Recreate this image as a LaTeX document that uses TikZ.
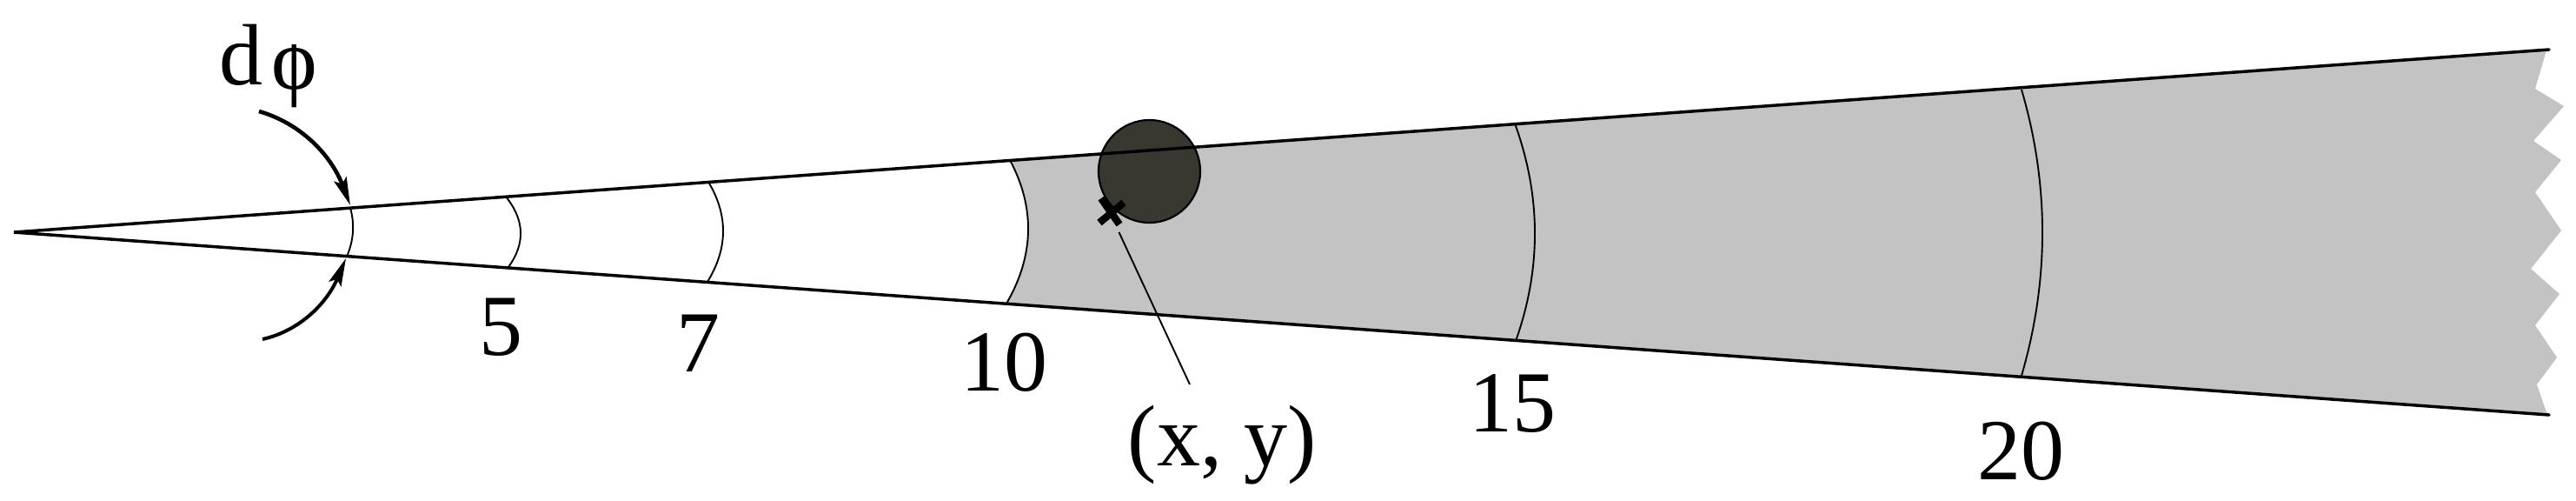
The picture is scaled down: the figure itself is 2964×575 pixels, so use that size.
\documentclass[tikz,border=0pt]{standalone}
\usepackage{fontspec}
\setmainfont{Liberation Serif}
\usetikzlibrary{arrows.meta}
\tikzset{
  lbl/.style={anchor=base,inner sep=0pt,font=\fontsize{50}{60}\selectfont},
  edgeline/.style={line width=1.75pt,line cap=round},
  arcline/.style={line width=0.95pt},
  bendarrow/.style={line width=2.3pt,-{Stealth[length=16pt,width=7.5pt,inset=3pt]}},
  crossline/.style={line width=4.2pt},
}
\definecolor{sector}{HTML}{C3C3C3}
\definecolor{blob}{HTML}{383830}
\begin{document}
\begin{tikzpicture}[x=0.5pt,y=-0.5pt]
\useasboundingbox (0,0) rectangle (2964,575);
\coordinate (apex) at (16,267);
\coordinate (upEnd) at (2933,57);
\coordinate (loEnd) at (2933,477);
\coordinate (t10) at (1162,184);
\coordinate (b10) at (1158,349);
% grey sector with torn right edge
\fill[sector] (t10) -- (2930,58) -- (2917,102) -- (2950,122) -- (2915,162) -- (2947,184)
  -- (2917,221) -- (2947,265) -- (2912,309) -- (2945,338) -- (2917,374) -- (2942,411)
  -- (2919,442) -- (2931,477) -- (b10) .. controls (1190,294) and (1191.3,239) .. (t10) -- cycle;
% range arcs
\draw[arcline] (403,239) .. controls (408.3,257.7) and (407,276.3) .. (399,295);
\draw[arcline] (582,226) .. controls (603.7,253) and (604.7,280) .. (585,307);
\draw[arcline] (815,209) .. controls (838,247.3) and (837.7,285.7) .. (814,324);
\draw[arcline] (t10) .. controls (1191.3,239) and (1190,294) .. (b10);
\draw[arcline] (1743,142) .. controls (1773.3,225.3) and (1773.7,308.7) .. (1744,392);
\draw[arcline] (2326,103) .. controls (2358,212.3) and (2358,322) .. (2326,432);
% blob
\draw[fill=blob,line width=1.1pt] (1322.5,197) ellipse [x radius=58.5,y radius=59];
% edges
\draw[edgeline] (upEnd) -- (apex) -- (loEnd);
% dphi arrows
\coordinate (arrTopS) at (298,128);
\coordinate (arrTopE) at (403,236);
\coordinate (arrBotS) at (302,390);
\coordinate (arrBotE) at (398,297);
\draw[bendarrow] (arrTopS) .. controls (345.7,141.7) and (380.7,177.7) .. (arrTopE);
\draw[bendarrow,line width=2pt] (arrBotS) .. controls (343.7,380.7) and (375.7,349.7) .. (arrBotE);
% marker
\draw[crossline] (1267,228) -- (1288,258);
\draw[crossline] (1293,233) -- (1265,256);
% leader
\coordinate (leadS) at (1287.5,267);
\coordinate (leadE) at (1369,442);
\draw[arcline] (leadS) -- (leadE);
% labels
\node[lbl] (ld) at (277.5,97) {d};
\begin{scope}
\clip (300,51) rectangle (385,130);
\node[lbl] (lphi) at (339,102) {ϕ};
\end{scope}
\node[lbl] (l5) at (576,408) {5};
\node[lbl] (l7) at (803,427) {7};
\node[lbl] (l10) at (1155,449) {10};
\node[lbl] (l15) at (1740,496) {15};
\node[lbl] (l20) at (2325,551) {20};
\node[lbl] (lxy) at (1406,535) {(x, y)};
\end{tikzpicture}
\end{document}
